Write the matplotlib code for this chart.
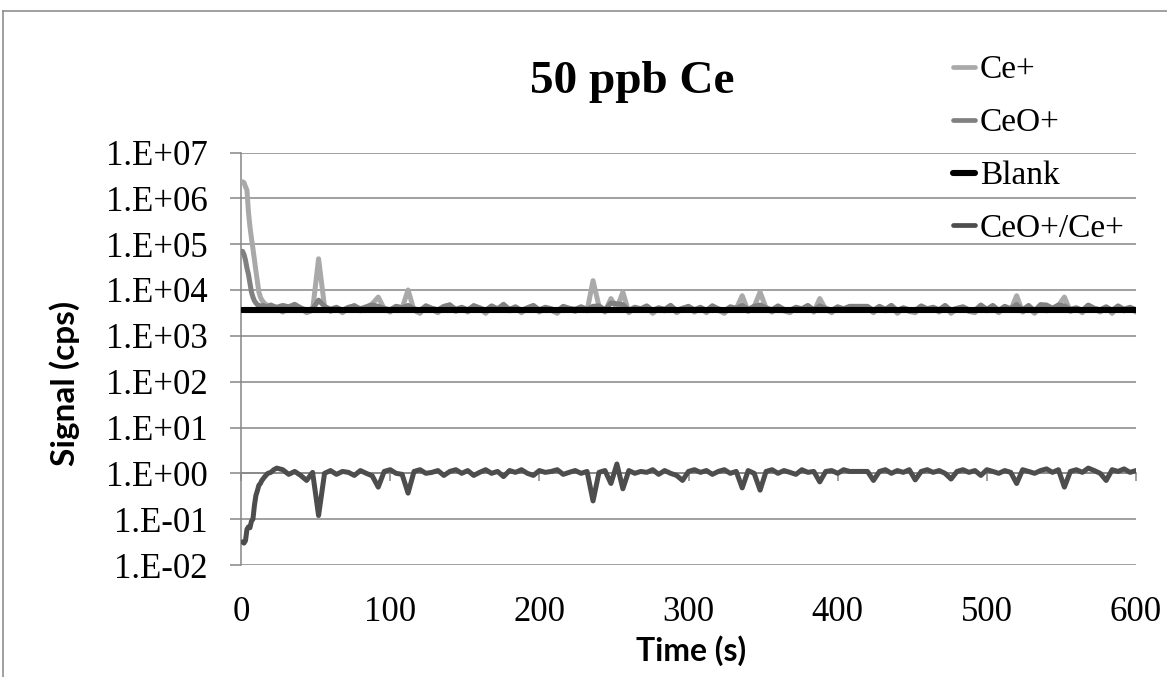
import numpy as np
import matplotlib
matplotlib.use("Agg")
import matplotlib.pyplot as plt
from matplotlib.lines import Line2D
from matplotlib.ticker import FixedLocator, FuncFormatter, NullLocator

# ---------------- data ----------------
time_s = [1, 2, 3, 4, 5, 6, 7, 8, 9, 10, 11, 12, 13, 14, 15, 16, 18, 20, 22, 24,
          28, 32, 36, 40, 44, 48, 52, 56, 60, 64,
          68, 72, 76, 80, 84, 88, 92, 96, 100, 104,
          108, 112, 116, 120, 124, 128, 132, 136, 140, 144,
          148, 152, 156, 160, 164, 168, 172, 176, 180, 184,
          188, 192, 196, 200, 204, 208, 212, 216, 220, 224,
          228, 232, 236, 240, 244, 248, 252, 256, 260, 264,
          268, 272, 276, 280, 284, 288, 292, 296, 300, 304,
          308, 312, 316, 320, 324, 328, 332, 336, 340, 344,
          348, 352, 356, 360, 364, 368, 372, 376, 380, 384,
          388, 392, 396, 400, 404, 408, 412, 416, 420, 424,
          428, 432, 436, 440, 444, 448, 452, 456, 460, 464,
          468, 472, 476, 480, 484, 488, 492, 496, 500, 504,
          508, 512, 516, 520, 524, 528, 532, 536, 540, 544,
          548, 552, 556, 560, 564, 568, 572, 576, 580, 584,
          588, 592, 596, 600]

# Ce+ signal (cps)
ce_plus = [2.3e6, 2.2e6, 1.8e6, 1.5e6, 5.0e5, 2.4e5, 1.35e5, 8.0e4, 4.5e4, 2.6e4,
           1.5e4, 9.0e3, 7.0e3, 6.0e3, 5.5e3, 5.0e3, 4.6e3, 4.5e3, 4.3e3, 4.0e3,
           3.3e3, 4.2e3, 4.9e3, 4.0e3, 3.2e3, 3.6e3, 4.8e4, 4.3e3, 3.4e3, 4.1e3,
           3.2e3, 4.0e3, 4.6e3, 3.5e3, 4.2e3, 5.0e3, 7.0e3, 3.9e3, 3.3e3, 4.4e3,
           4.0e3, 1.0e4, 3.6e3, 3.1e3, 4.5e3, 3.8e3, 3.2e3, 4.3e3, 4.8e3, 3.4e3,
           4.1e3, 3.3e3, 4.6e3, 4.0e3, 3.1e3, 4.4e3, 3.6e3, 4.9e3, 3.5e3, 4.2e3,
           3.2e3, 4.0e3, 4.5e3, 3.3e3, 4.1e3, 3.6e3, 3.1e3, 4.3e3, 3.9e3, 3.4e3,
           4.2e3, 3.5e3, 1.6e4, 4.4e3, 3.3e3, 6.5e3, 4.0e3, 9.0e3, 3.2e3, 4.1e3,
           3.6e3, 4.4e3, 3.1e3, 4.0e3, 3.5e3, 4.6e3, 3.2e3, 3.9e3, 4.3e3, 3.3e3,
           4.1e3, 3.2e3, 4.5e3, 3.6e3, 3.1e3, 4.2e3, 3.9e3, 7.5e3, 3.4e3, 4.3e3,
           9.0e3, 4.0e3, 3.3e3, 4.4e3, 3.5e3, 3.2e3, 4.1e3, 3.7e3, 4.5e3, 3.3e3,
           6.5e3, 3.8e3, 3.2e3, 4.2e3, 3.6e3, 4.0e3, 3.9e3, 4.1e3, 4.0e3, 3.2e3,
           4.3e3, 3.5e3, 4.6e3, 3.1e3, 4.0e3, 3.4e3, 3.2e3, 4.4e3, 3.6e3, 4.1e3,
           3.3e3, 4.5e3, 3.1e3, 3.9e3, 4.2e3, 3.4e3, 3.2e3, 4.6e3, 3.5e3, 4.0e3,
           3.2e3, 4.3e3, 3.6e3, 7.5e3, 3.3e3, 4.1e3, 3.1e3, 4.4e3, 3.5e3, 3.9e3,
           4.6e3, 7.0e3, 3.4e3, 4.0e3, 3.2e3, 4.5e3, 3.9e3, 3.3e3, 4.2e3, 3.1e3,
           4.4e3, 3.5e3, 4.1e3, 3.3e3]

# CeO+ signal (cps)
ceo_plus = [7.0e4, 6.0e4, 4.5e4, 3.0e4, 2.2e4, 1.4e4, 9.0e3, 7.0e3, 5.8e3, 5.2e3,
            4.8e3, 4.6e3, 4.5e3, 4.4e3, 4.6e3, 4.4e3, 4.3e3, 4.7e3, 4.4e3, 4.2e3,
            4.6e3, 4.3e3, 4.8e3, 4.1e3, 3.6e3, 3.9e3, 6.0e3, 4.4e3, 3.8e3, 4.2e3,
            3.6e3, 4.2e3, 4.5e3, 3.9e3, 4.3e3, 4.7e3, 4.4e3, 4.0e3, 3.7e3, 4.4e3,
            4.1e3, 4.6e3, 3.9e3, 3.6e3, 4.5e3, 4.0e3, 3.7e3, 4.4e3, 4.7e3, 3.8e3,
            4.2e3, 3.7e3, 4.5e3, 4.1e3, 3.6e3, 4.5e3, 3.9e3, 4.8e3, 3.8e3, 4.3e3,
            3.6e3, 4.1e3, 4.6e3, 3.7e3, 4.2e3, 3.9e3, 3.5e3, 4.4e3, 4.0e3, 3.8e3,
            4.3e3, 3.8e3, 4.4e3, 4.5e3, 3.7e3, 5.2e3, 5.0e3, 4.8e3, 3.6e3, 4.2e3,
            3.9e3, 4.5e3, 3.6e3, 4.1e3, 3.8e3, 4.6e3, 3.6e3, 4.0e3, 4.4e3, 3.7e3,
            4.2e3, 3.6e3, 4.5e3, 3.9e3, 3.5e3, 4.3e3, 4.0e3, 4.6e3, 3.8e3, 4.4e3,
            4.7e3, 4.1e3, 3.7e3, 4.5e3, 3.8e3, 3.6e3, 4.2e3, 3.9e3, 4.6e3, 3.7e3,
            4.5e3, 4.0e3, 3.6e3, 4.3e3, 3.9e3, 4.4e3, 4.4e3, 4.4e3, 4.4e3, 3.6e3,
            4.4e3, 3.8e3, 4.6e3, 3.6e3, 4.1e3, 3.7e3, 3.6e3, 4.5e3, 3.9e3, 4.2e3,
            3.7e3, 4.6e3, 3.6e3, 4.0e3, 4.3e3, 3.7e3, 3.6e3, 4.7e3, 3.8e3, 4.6e3,
            3.6e3, 4.4e3, 3.9e3, 4.8e3, 3.7e3, 4.6e3, 3.5e3, 4.8e3, 4.7e3, 4.0e3,
            4.7e3, 4.5e3, 3.8e3, 4.1e3, 3.6e3, 4.7e3, 4.0e3, 3.7e3, 4.3e3, 3.6e3,
            4.5e3, 3.8e3, 4.2e3, 3.7e3]

# CeO+/Ce+ ratio
ratio = [0.032, 0.030, 0.034, 0.060, 0.068, 0.065, 0.090, 0.10, 0.20, 0.33,
         0.42, 0.55, 0.60, 0.70, 0.77, 0.85, 1.0, 1.05, 1.2, 1.3,
         1.2, 0.95, 1.1, 0.9, 0.7, 1.05, 0.12, 1.0, 1.15, 0.95,
         1.1, 1.05, 0.9, 1.15, 1.0, 0.88, 0.5, 1.1, 1.2, 1.0,
         0.95, 0.37, 1.1, 1.2, 1.0, 1.05, 1.15, 0.9, 1.1, 1.2,
         1.0, 1.15, 0.9, 1.05, 1.2, 1.0, 1.1, 0.85, 1.15, 1.05,
         1.2, 1.0, 0.9, 1.15, 1.05, 1.1, 1.2, 0.95, 1.05, 1.15,
         1.0, 1.1, 0.25, 1.05, 1.15, 0.6, 1.6, 0.46, 1.15, 1.0,
         1.1, 1.05, 1.2, 0.95, 1.15, 1.0, 0.9, 0.7, 1.1, 1.2,
         1.05, 1.15, 0.95, 1.1, 1.2, 1.0, 1.1, 0.48, 1.15, 1.0,
         0.43, 1.1, 1.2, 1.0, 1.15, 1.05, 0.95, 1.2, 1.05, 1.1,
         0.65, 1.1, 1.15, 1.0, 1.2, 1.1, 1.1, 1.1, 1.1, 0.7,
         1.1, 1.2, 1.0, 1.15, 1.05, 1.2, 0.72, 1.1, 1.2, 1.05,
         1.15, 1.0, 0.75, 1.1, 1.2, 1.05, 1.15, 0.9, 1.2, 1.1,
         1.0, 1.15, 1.05, 0.6, 1.2, 1.1, 1.0, 1.15, 1.25, 1.05,
         1.2, 0.5, 1.1, 1.2, 1.05, 1.3, 1.15, 1.0, 0.7, 1.2,
         1.1, 1.25, 1.05, 1.15]

blank_time = [1, 600]
blank = [3.7e3, 3.7e3]

series_names = ["Ce+", "CeO+", "Blank", "CeO+/Ce+"]
series_colors = ["#A9A9A9", "#808080", "#000000", "#4D4D4D"]

x_ticks = [0, 100, 200, 300, 400, 500, 600]
y_exponents = [-2, -1, 0, 1, 2, 3, 4, 5, 6, 7]

title = "50 ppb Ce"
x_label = "Time (s)"
y_label = "Signal (cps)"

# ---------------- figure ----------------
W, H = 1167, 677
fig = plt.figure(figsize=(W / 100, H / 100), dpi=100)
fig.patch.set_facecolor("white")

# outer chart border (cropped at right and bottom)
fig.add_artist(Line2D([3 / W, 1.0], [1 - 11 / H, 1 - 11 / H], transform=fig.transFigure,
                      color="#868686", lw=1.1))
fig.add_artist(Line2D([3 / W, 3 / W], [1 - 11 / H, 0.0], transform=fig.transFigure,
                      color="#868686", lw=1.1))

left, right, top, bottom = 241, 1136, 152.5, 565
ax = fig.add_axes([left / W, 1 - bottom / H, (right - left) / W, (bottom - top) / H])

grid_c = "#868686"
serif = "Liberation Serif"

lw_main = 3.6
ax.plot(time_s, ce_plus, color=series_colors[0], lw=lw_main,
        solid_capstyle="round", solid_joinstyle="round", zorder=3)
ax.plot(time_s, ceo_plus, color=series_colors[1], lw=lw_main,
        solid_capstyle="round", solid_joinstyle="round", zorder=3)
ax.plot(blank_time, blank, color=series_colors[2], lw=4.4,
        solid_capstyle="round", solid_joinstyle="round", zorder=3)
ax.plot(time_s, ratio, color=series_colors[3], lw=lw_main,
        solid_capstyle="round", solid_joinstyle="round", zorder=3)

ax.set_yscale("log")
ax.set_ylim(10.0 ** y_exponents[0], 10.0 ** y_exponents[-1])
ax.set_xlim(x_ticks[0], x_ticks[-1])

ax.yaxis.set_major_locator(FixedLocator([10.0 ** e for e in y_exponents]))
ax.yaxis.set_minor_locator(NullLocator())
ax.yaxis.set_major_formatter(FuncFormatter(
    lambda v, pos: "1.E{:+03d}".format(int(round(np.log10(v))))))
ax.grid(axis="y", color=grid_c, lw=1.1)
ax.set_axisbelow(True)

for s in ["top", "right"]:
    ax.spines[s].set_visible(False)
ax.spines["left"].set_color(grid_c)
ax.spines["left"].set_linewidth(1.1)
ax.spines["bottom"].set_position(("data", 1.0))
ax.spines["bottom"].set_color(grid_c)
ax.spines["bottom"].set_linewidth(1.1)

ax.tick_params(axis="y", direction="out", length=8, width=1.1, color=grid_c,
               pad=16, labelsize=25)
ax.set_xticks(x_ticks)
ax.xaxis.set_minor_locator(NullLocator())
ax.tick_params(axis="x", direction="out", length=6, width=1.1, color=grid_c,
               labelbottom=False)
for lab in ax.get_yticklabels():
    lab.set_fontfamily(serif)

sec = ax.secondary_xaxis(0)
sec.set_xticks(x_ticks)
sec.spines["bottom"].set_visible(False)
sec.tick_params(axis="x", length=0, pad=22, labelsize=25)
for lab in sec.get_xticklabels():
    lab.set_fontfamily(serif)

# titles
fig.text(632 / W, 1 - 93 / H, title, ha="center", va="baseline",
         fontfamily=serif, fontweight="bold", fontsize=34)
fig.text(691 / W, 1 - 651 / H, x_label, ha="center", va="center",
         fontfamily="Lato", fontweight="bold", fontsize=23)
fig.text(65 / W, 1 - 383 / H, y_label, ha="center", va="center", rotation=90,
         fontfamily="Lato", fontweight="bold", fontsize=24)

# legend
handles = [Line2D([], [], color=c, lw=(4.4 if n == "Blank" else 3.4),
                  solid_capstyle="round") for n, c in zip(series_names, series_colors)]
fig.legend(handles, series_names, loc="upper left",
           bbox_to_anchor=(953 / W, 1 - 55 / H), bbox_transform=fig.transFigure,
           frameon=False, prop={"family": serif, "size": 24},
           handlelength=0.66, handletextpad=0.15, labelspacing=0.67,
           borderpad=0, borderaxespad=0)

fig.savefig("out.png", dpi=100, facecolor="white")
